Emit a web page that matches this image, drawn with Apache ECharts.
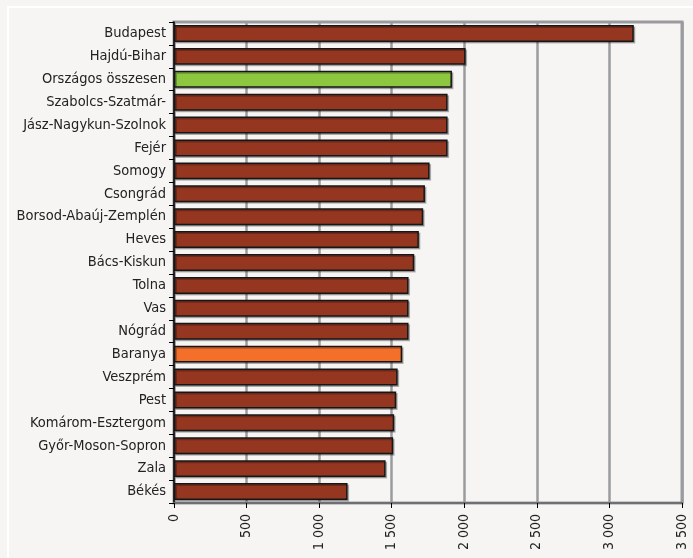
<!DOCTYPE html>
<html><head><meta charset="utf-8">
<script src="https://cdn.jsdelivr.net/npm/echarts@6/dist/echarts.min.js"></script>
<style>html,body{margin:0;padding:0;background:#f6f5f3}#c{width:693px;height:558px}</style>
</head><body><div id="c"></div>
<script>
const categories = ["Budapest","Hajdú-Bihar","Országos összesen","Szabolcs-Szatmár-","Jász-Nagykun-Szolnok","Fejér","Somogy","Csongrád","Borsod-Abaúj-Zemplén","Heves","Bács-Kiskun","Tolna","Vas","Nógrád","Baranya","Veszprém","Pest","Komárom-Esztergom","Győr-Moson-Sopron","Zala","Békés"];
const values = [3168,2009,1915,1885,1885,1885,1761,1729,1717,1687,1655,1616,1616,1616,1572,1541,1531,1517,1510,1458,1196];
const highlightTotal = "Országos összesen";
const highlightCounty = "Baranya";
const xTicks = [0,500,1000,1500,2000,2500,3000,3500];

const FONT = '"DejaVu Sans Condensed","Liberation Sans Narrow","Arial Narrow",sans-serif';
function fmt(v){ if(v>=1000){ return Math.floor(v/1000)+' '+String(v%1000).padStart(3,'0'); } return String(v); }

const data = values.map((v,i)=>{
  let c = '#943620';
  if(categories[i]===highlightTotal) c = '#8dc63f';
  if(categories[i]===highlightCounty) c = '#f36f2a';
  return {value:v, itemStyle:{color:c}};
});

const chart = echarts.init(document.getElementById('c'), null, {renderer:'canvas'});
chart.setOption({
  backgroundColor:'#f6f5f3',
  animation:false,
  graphic:[{type:'rect', shape:{x:8,y:7,width:700,height:560}, style:{fill:'none', stroke:'#ffffff', lineWidth:2}}],
  grid:{left:174, right:11, top:22, bottom:55, show:true, borderColor:'#9a9b9f', borderWidth:3, backgroundColor:'#f6f5f3'},
  xAxis:{type:'value', min:0, max:3500, interval:500,
    axisLine:{show:true, lineStyle:{color:'#6e6f73', width:2}},
    axisTick:{show:true, length:5, lineStyle:{color:'#000', width:1}},
    splitLine:{show:true, lineStyle:{color:'#9a9b9f', width:2.5}},
    axisLabel:{rotate:90, margin:11, color:'#222', fontFamily:FONT, fontSize:14, formatter:fmt}
  },
  yAxis:{type:'category', data:categories, inverse:true,
    axisLine:{show:true, lineStyle:{color:'#000', width:1.5}},
    axisTick:{show:true, length:5, lineStyle:{color:'#000', width:1}},
    axisLabel:{color:'#222', fontFamily:FONT, fontSize:14.5, margin:8}
  },
  series:[{type:'bar', data:data, barCategoryGap:'26%',
    itemStyle:{borderColor:'#161616', borderWidth:1.5, shadowColor:'rgba(0,0,0,0.25)', shadowOffsetX:1.5, shadowOffsetY:1.5, shadowBlur:0}
  }]
});
</script></body></html>
